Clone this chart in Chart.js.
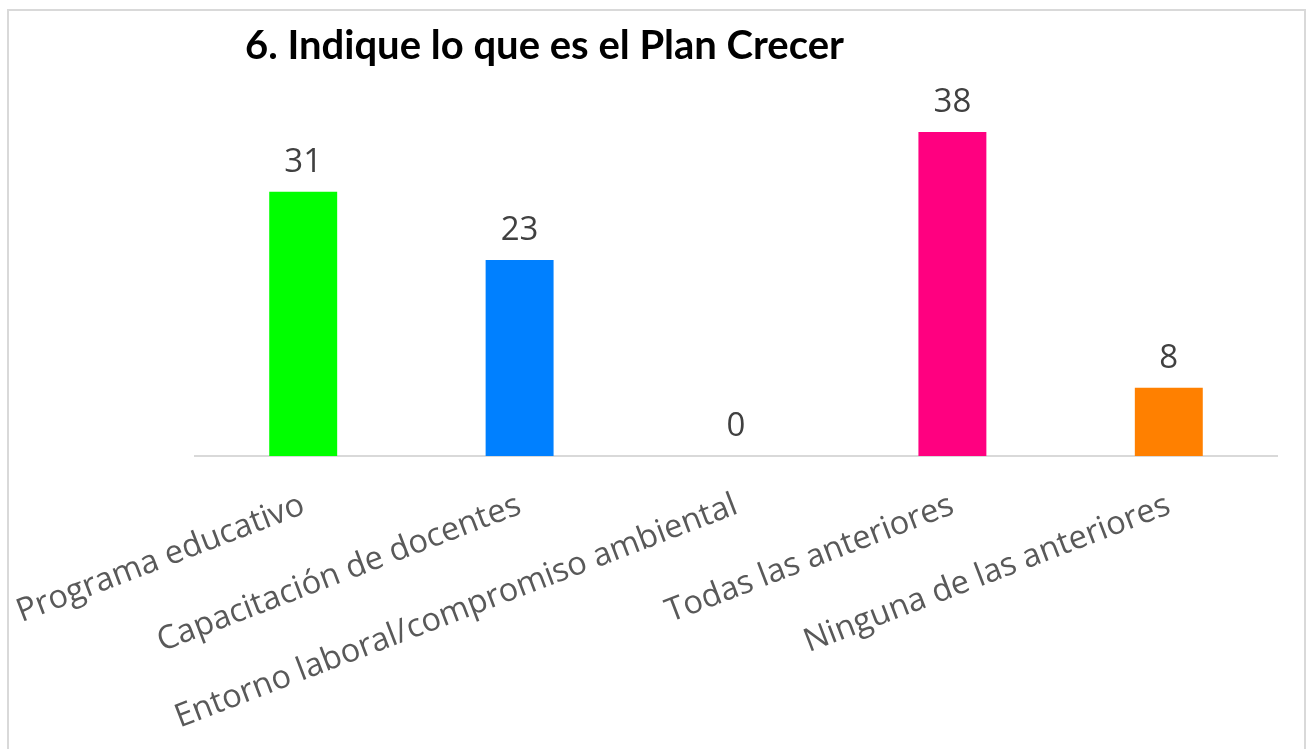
<!DOCTYPE html>
<html>
<head>
<meta charset="utf-8">
<script src="https://cdn.jsdelivr.net/npm/chart.js@4"></script>
<style>
  html, body { margin: 0; padding: 0; background: #fff; }
  #wrap { width: 1312px; height: 749px; position: relative; }
</style>
</head>
<body>
<div id="wrap"><canvas id="chart" width="1312" height="749"></canvas></div>
<script>
// --- Data ---
const chartTitle = '6. Indique lo que es el Plan Crecer';
const categories = ['Programa educativo', 'Capacitación de docentes', 'Entorno laboral/compromiso ambiental', 'Todas las anteriores', 'Ninguna de las anteriores'];
const values = [31, 23, 0, 38, 8];
const barColors = ['#00FF00', '#0080FF', '#FF00FF', '#FF0080', '#FF8000'];

// --- Plugins ---
const frameAndTitle = {
  id: 'frameAndTitle',
  beforeDraw(chart) {
    const ctx = chart.ctx;
    ctx.save();
    ctx.strokeStyle = '#d9d9d9';
    ctx.lineWidth = 2;
    ctx.strokeRect(8, 10, 1297, 760);
    ctx.restore();
  },
  afterDraw(chart) {
    const ctx = chart.ctx;
    ctx.save();
    ctx.fillStyle = '#000';
    ctx.font = 'bold 40px Lato';
    ctx.textBaseline = 'alphabetic';
    ctx.textAlign = 'left';
    ctx.fillText(chartTitle, 245, 59);
    ctx.restore();
  }
};

const valueLabels = {
  id: 'valueLabels',
  afterDatasetsDraw(chart) {
    const ctx = chart.ctx;
    const meta = chart.getDatasetMeta(0);
    ctx.save();
    ctx.fillStyle = '#404040';
    ctx.font = '33px "Open Sans"';
    ctx.textAlign = 'center';
    ctx.textBaseline = 'alphabetic';
    meta.data.forEach((bar, i) => {
      ctx.fillText(String(values[i]), bar.x, bar.y - 20);
    });
    ctx.restore();
  }
};

// --- Chart ---
function drawChart() {
  new Chart(document.getElementById('chart').getContext('2d'), {
    type: 'bar',
    data: {
      labels: categories,
      datasets: [{
        data: values,
        backgroundColor: barColors,
        borderWidth: 0,
        barPercentage: 0.314,
        categoryPercentage: 1
      }]
    },
    options: {
      responsive: false,
      animation: false,
      layout: { padding: { top: 115, left: 195, right: 35, bottom: 0 } },
      plugins: { legend: { display: false }, tooltip: { enabled: false }, title: { display: false } },
      scales: {
        x: {
          grid: { display: false },
          border: { display: true, color: '#d9d9d9', width: 2 },
          ticks: {
            color: '#595959',
            font: { family: 'Open Sans', size: 32.5 },
            minRotation: 21, maxRotation: 21,
            padding: 22,
            autoSkip: false
          },
          afterFit(scale) {
            scale.height = 293;
            scale.paddingLeft = 0;
            scale.paddingRight = 0;
          }
        },
        y: {
          display: false,
          min: 0, max: 40
        }
      }
    },
    plugins: [frameAndTitle, valueLabels]
  });
}

Promise.all([
  document.fonts.load('33px "Open Sans"'),
  document.fonts.load('bold 40px Lato')
]).then(drawChart, drawChart);
</script>
</body>
</html>
